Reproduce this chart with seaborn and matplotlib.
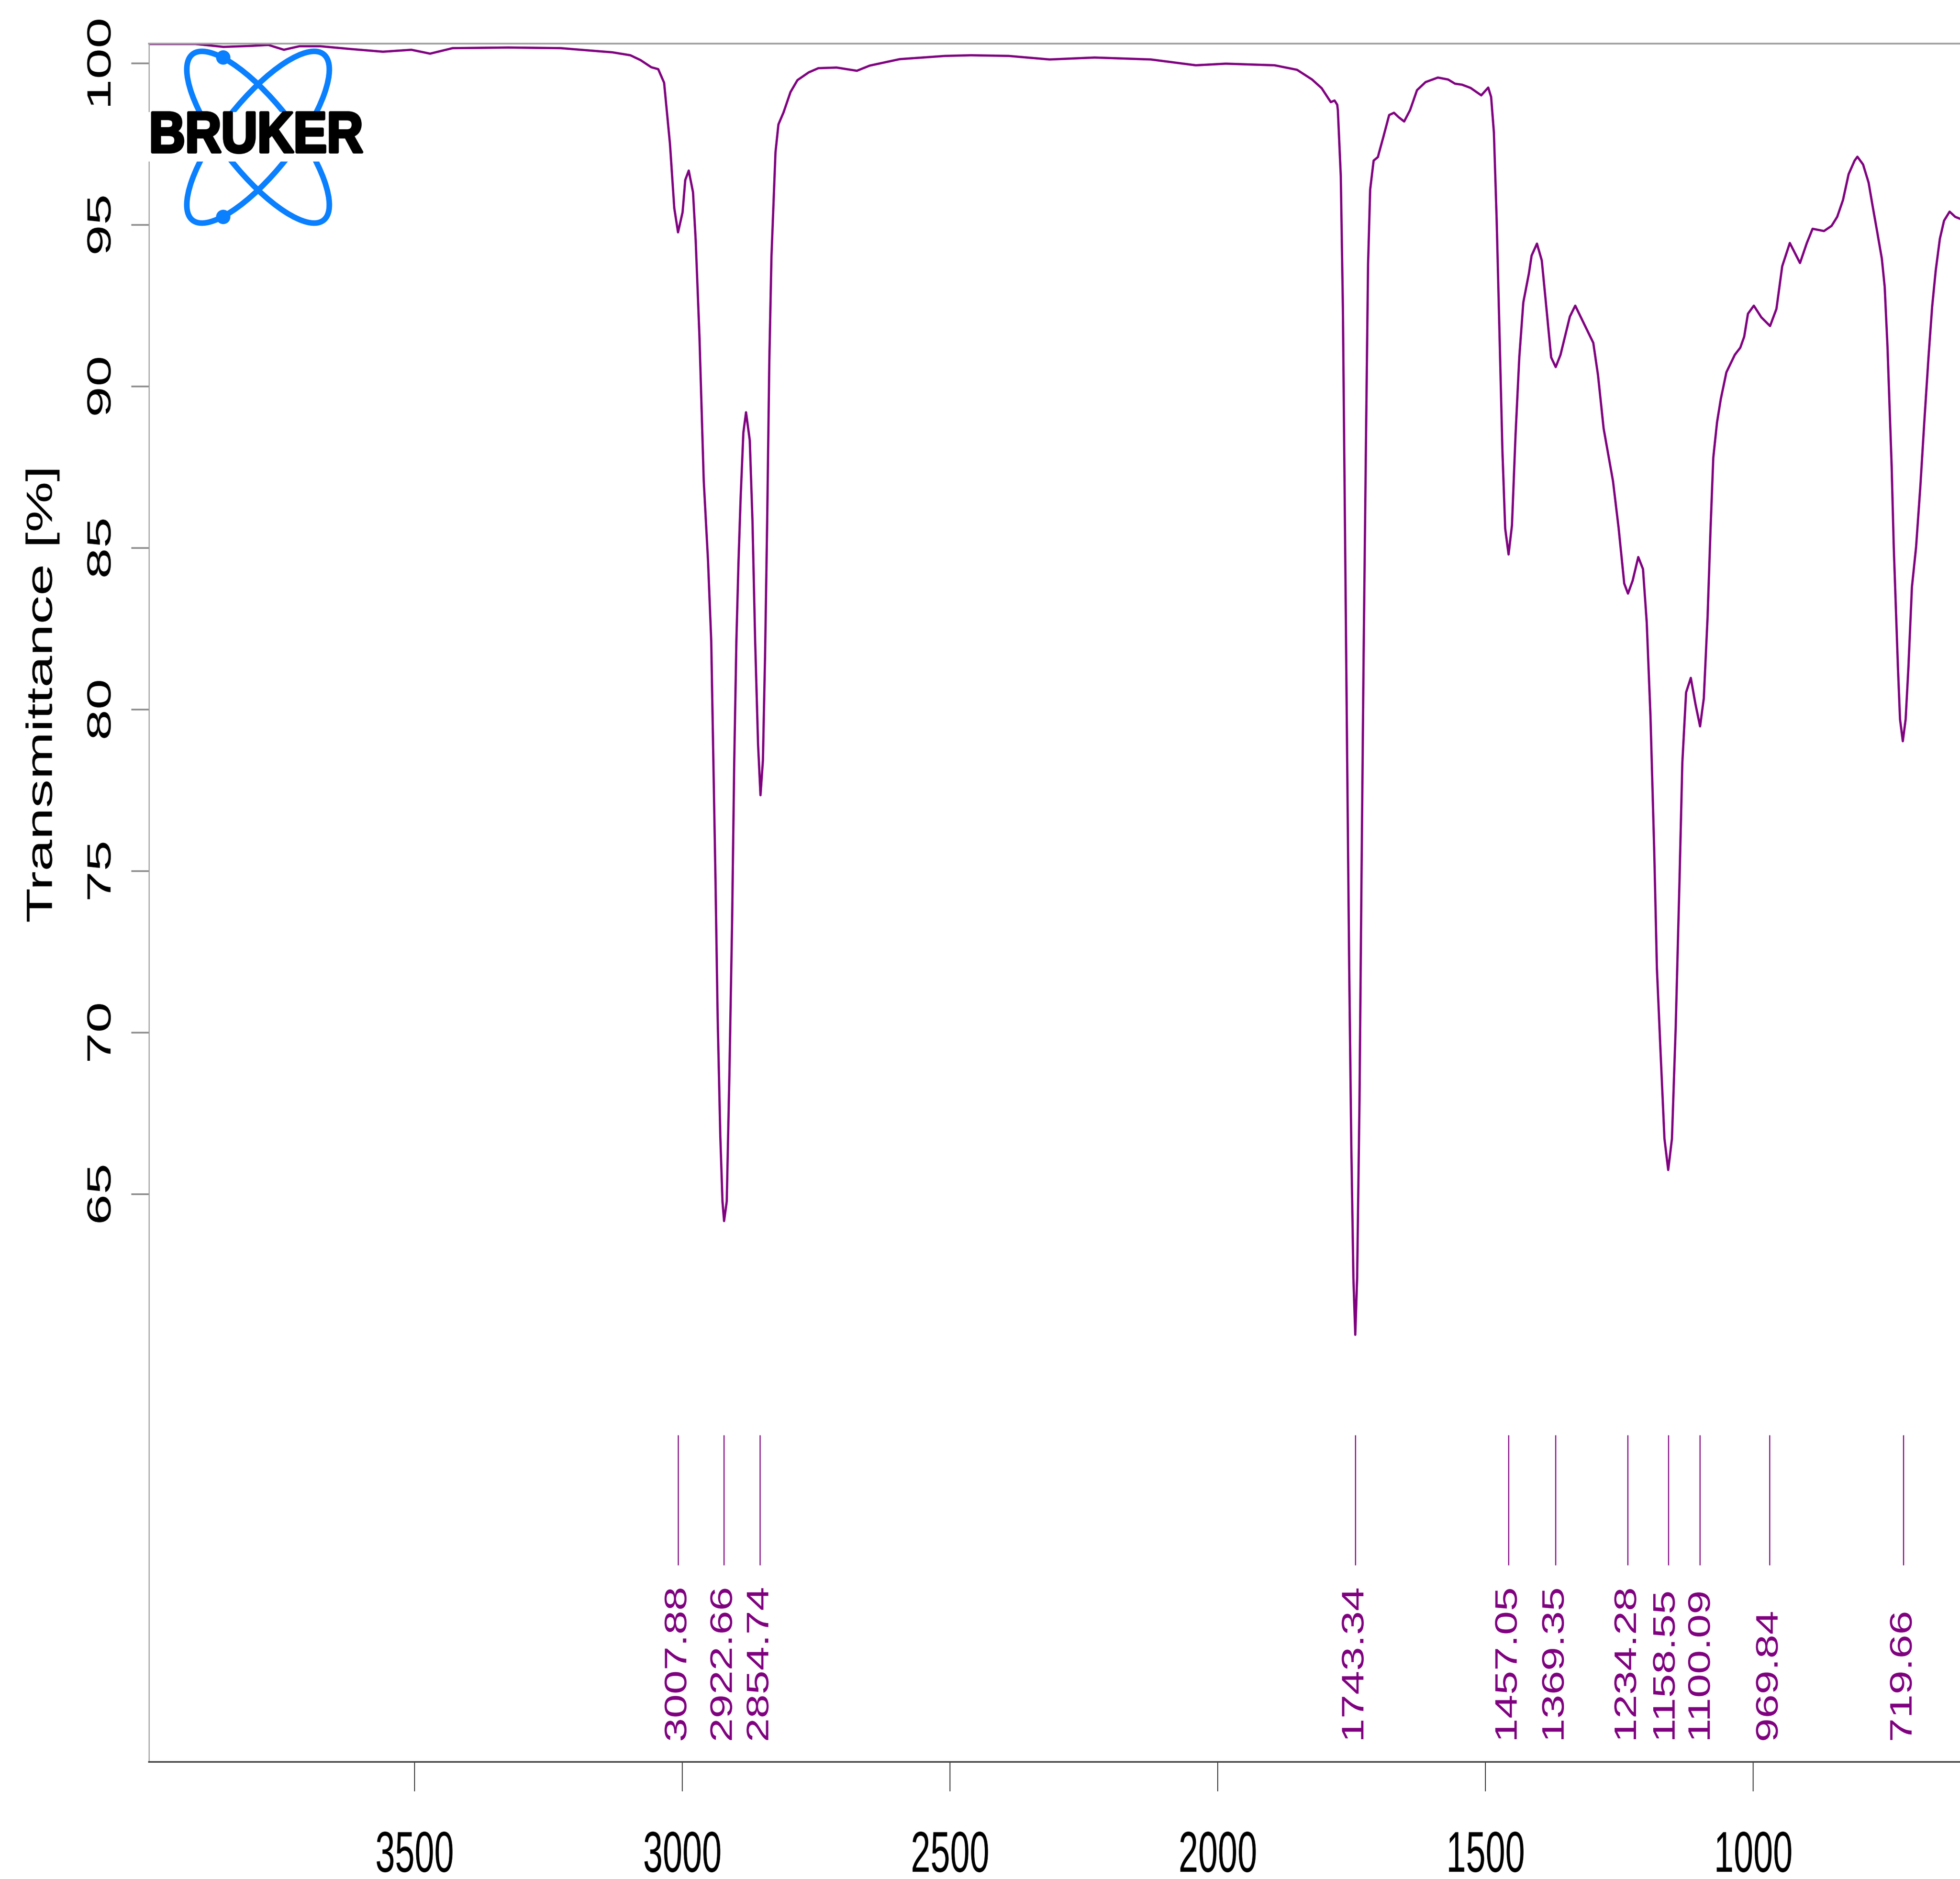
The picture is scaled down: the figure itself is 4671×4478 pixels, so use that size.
import matplotlib
matplotlib.use("Agg")
import matplotlib.pyplot as plt
import seaborn as sns
from matplotlib.patches import Ellipse, Circle
from matplotlib.patheffects import AbstractPathEffect
from matplotlib.transforms import Affine2D, ScaledTranslation

# ---------------------------------------------------------------- data
wavenumber = [
    3996, 3909, 3857, 3806, 3773, 3744, 3715, 3676, 3624, 3559, 3506, 3471,
    3429, 3325, 3227, 3130, 3097, 3078, 3058, 3045, 3034, 3023, 3015, 3008,
    2999.5, 2994.5, 2988, 2980, 2975, 2968, 2960, 2952, 2946, 2942, 2938,
    2934, 2929, 2925, 2922, 2917, 2912, 2907, 2903, 2899, 2895, 2891, 2886,
    2881, 2874, 2869, 2864, 2858.5, 2854, 2849.5, 2845.5, 2841.5, 2837.5,
    2833.5, 2829.5, 2826, 2820.5, 2811, 2798, 2785, 2764, 2746, 2712, 2674,
    2650, 2594, 2509, 2461, 2391, 2314, 2230, 2125, 2041, 1985, 1894, 1852,
    1824, 1806, 1789, 1782, 1777, 1775.8, 1770.3, 1766.4, 1762.5, 1758.6,
    1754.6, 1750.7, 1746.8, 1743.3, 1739.8, 1735.4, 1731.7, 1727.8, 1723.3,
    1719.4, 1715.5, 1709, 1701, 1699, 1690.7, 1680, 1671, 1662, 1652, 1641,
    1628, 1612, 1589, 1570, 1557, 1544, 1528, 1508, 1495, 1489.6, 1484.4,
    1479.2, 1474.5, 1468.5, 1463.3, 1457, 1450.7, 1444, 1437, 1429.5, 1419,
    1414, 1404, 1395, 1388, 1377.5, 1369, 1360, 1342.6, 1332.5, 1314.6,
    1298.8, 1290, 1279.5, 1262, 1251.5, 1241, 1234, 1225.3, 1214.8, 1206,
    1199, 1192, 1185, 1180, 1172.8, 1165.9, 1158.9, 1151.9, 1144.9, 1137.8,
    1132.5, 1125.5, 1116.7, 1108, 1099.4, 1092.4, 1085.3, 1079.8, 1074.7,
    1067.7, 1060.7, 1050.2, 1034.5, 1024.3, 1017, 1010, 999, 985, 968.7,
    956.8, 946, 931.8, 912.8, 900, 889.3, 868, 853.8, 843.3, 832.5, 822,
    810.8, 805.6, 795, 784.7, 776.9, 769, 759.9, 754.6, 749.4, 745.5, 741.6,
    737.7, 733.8, 729.9, 726, 720.8, 715.5, 710.3, 703.8, 696, 688.1, 680.3,
    672.5, 666, 659.4, 651.6, 643.8, 633.4, 623, 614,
]
transmittance = [
    100.60, 100.60, 100.51, 100.54, 100.57, 100.42, 100.53, 100.53, 100.45,
    100.36, 100.42, 100.30, 100.47, 100.49, 100.47, 100.34, 100.25, 100.10,
    99.88, 99.82, 99.40, 97.50, 95.52, 94.77, 95.39, 96.39, 96.68, 96.01,
    94.52, 91.55, 87.09, 84.61, 82.13, 78.42, 74.70, 70.48, 66.77, 64.78,
    64.17, 64.78, 68.76, 73.46, 78.42, 82.13, 84.61, 86.59, 88.57, 89.20,
    88.33, 85.85, 82.13, 78.91, 77.35, 78.42, 81.63, 85.85, 90.80, 94.03,
    95.76, 97.25, 98.11, 98.48, 99.11, 99.48, 99.72, 99.85, 99.87, 99.77,
    99.93, 100.13, 100.23, 100.25, 100.23, 100.12, 100.18, 100.12, 99.94,
    99.99, 99.94, 99.80, 99.50, 99.23, 98.80, 98.85, 98.72, 98.55, 96.50,
    92.41, 85.60, 78.78, 71.97, 66.51, 62.42, 60.65, 62.42, 67.88, 74.69,
    81.50, 88.33, 93.78, 96.09, 96.99, 97.10, 97.23, 97.73, 98.40, 98.47,
    98.33, 98.20, 98.55, 99.17, 99.42, 99.56, 99.50, 99.37, 99.34, 99.24,
    99.01, 99.25, 98.96, 97.86, 95.14, 92.00, 88.00, 85.60, 84.80, 85.70,
    88.50, 90.90, 92.60, 93.50, 94.05, 94.42, 93.90, 92.71, 90.90, 90.60,
    90.98, 92.16, 92.50, 91.89, 91.35, 90.35, 88.70, 87.07, 85.62, 83.90,
    83.59, 83.99, 84.72, 84.35, 82.70, 79.80, 75.62, 71.99, 69.26, 66.72,
    65.75, 66.72, 70.17, 74.72, 78.36, 80.53, 80.98, 80.17, 79.48, 80.35,
    82.89, 85.62, 87.80, 88.89, 89.61, 90.44, 90.98, 91.20, 91.54, 92.25,
    92.50, 92.14, 91.87, 92.40, 93.72, 94.44, 93.82, 94.44, 94.88, 94.81,
    94.97, 95.25, 95.77, 96.57, 96.99, 97.11, 96.87, 96.31, 95.56, 94.82,
    93.95, 93.08, 91.23, 89.37, 87.51, 85.03, 83.17, 81.31, 79.70, 79.02,
    79.70, 81.31, 83.79, 85.03, 86.89, 89.00, 90.98, 92.47, 93.58, 94.57,
    95.13, 95.41, 95.25, 95.19,
]

peak_positions = [3007.88, 2922.66, 2854.74, 1743.34, 1457.05, 1369.35,
                  1234.28, 1158.55, 1100.09, 969.84, 719.66]
peak_labels = ["3007.88", "2922.66", "2854.74", "1743.34", "1457.05",
               "1369.35", "1234.28", "1158.55", "1100.09", "969.84", "719.66"]

x_ticks = [3500, 3000, 2500, 2000, 1500, 1000]
y_ticks = [65, 70, 75, 80, 85, 90, 95, 100]


# ---------------------------------------------------------------- helpers
class Stretch(AbstractPathEffect):
    """Draw glyphs scaled along the page's vertical direction (tall type)."""

    def __init__(self, sy=1.0, anchor="center", stroke=0.0):
        super().__init__()
        self._sy = sy
        self._anchor = anchor
        self._stroke = stroke

    def draw_path(self, renderer, gc, tpath, affine, rgbFace=None):
        ext = tpath.get_extents(affine)
        cx = 0.5 * (ext.x0 + ext.x1)
        if self._anchor == "top":
            cy = ext.y1
        elif self._anchor == "bottom":
            cy = ext.y0
        else:
            cy = 0.5 * (ext.y0 + ext.y1)
        tr = affine + Affine2D().translate(-cx, -cy).scale(1.0, self._sy).translate(cx, cy)
        gc0 = renderer.new_gc()
        gc0.copy_properties(gc)
        if self._stroke > 0 and rgbFace is not None:
            gc0.set_linewidth(self._stroke)
            gc0.set_foreground(rgbFace)
            gc0.set_joinstyle("round")
        renderer.draw_path(gc0, tpath, tr, rgbFace)
        gc0.restore()


# ---------------------------------------------------------------- style
W, H, DPI = 4671, 4478, 300
PURPLE = "#800080"
LOGO_BLUE = "#0A80FF"

sns.set_theme(style="white")
plt.rcParams["font.family"] = ["Liberation Sans", "DejaVu Sans"]

fig = plt.figure(figsize=(W / DPI, H / DPI), dpi=DPI, facecolor="white")

# plot area in pixel units of the canvas
left_px, right_px, top_px, bottom_px = 355, W, 104, 4199
ax = fig.add_axes([left_px / W, 1 - bottom_px / H,
                   (right_px - left_px) / W, (bottom_px - top_px) / H])
ax.set_facecolor("white")

sns.lineplot(x=wavenumber, y=transmittance, ax=ax, color=PURPLE,
             linewidth=1.3, estimator=None, sort=False)

ax.set_xlim(3996, 614)
ax.set_ylim(47.43, 100.61)
ax.set_xticks(x_ticks)
ax.set_yticks(y_ticks)
ax.set_xticklabels([str(v) for v in x_ticks])
ax.set_yticklabels([str(v) for v in y_ticks])

# spines
ax.spines["right"].set_visible(False)
ax.spines["top"].set_color("#A0A0A0")
ax.spines["top"].set_linewidth(1.0)
ax.spines["left"].set_color("#A0A0A0")
ax.spines["left"].set_linewidth(0.6)
ax.spines["bottom"].set_color("#444444")
ax.spines["bottom"].set_linewidth(0.9)

# ticks
ax.tick_params(axis="x", which="major", direction="out", length=16.8,
               width=0.5, color="#333333", pad=22.5, labelsize=20.2,
               labelcolor="black", bottom=True)
ax.tick_params(axis="y", which="major", direction="out", length=10,
               width=1.0, color="#909090", pad=7.9, labelsize=19.2,
               labelcolor="black", left=True, labelrotation=90)
for tick in ax.xaxis.get_major_ticks():
    tick.label1.set_path_effects([Stretch(1.63, "top")])
for tick in ax.yaxis.get_major_ticks():
    tick.label1.set_verticalalignment("center")
    tick.label1.set_path_effects([Stretch(1.65, "center")])

ax.set_xlabel("")
ax.set_ylabel("Transmittance [%]", fontsize=20.9, color="black",
              path_effects=[Stretch(1.56, "center")])
ax.yaxis.set_label_coords(-0.0494, 0.621)

# peak markers with their wavenumber labels
label_nudge = {"1158.55": -1.1, "1100.09": 1.1}
ax.vlines(peak_positions, ymin=53.52, ymax=57.55, color=PURPLE, linewidth=0.6)
for pos, lab in zip(peak_positions, peak_labels):
    shift = ScaledTranslation(label_nudge.get(lab, 0.0) / 72, 0, fig.dpi_scale_trans)
    ax.text(pos, 48.06, lab, rotation=90, ha="center", va="bottom",
            fontsize=17.8, color=PURPLE, transform=ax.transData + shift,
            path_effects=[Stretch(1.38, "bottom")])

# ---------------------------------------------------------------- logo
lx0, lx1, ly0, ly1 = 330, 900, 90, 570
logo = fig.add_axes([lx0 / W, 1 - ly1 / H, (lx1 - lx0) / W, (ly1 - ly0) / H])
logo.set_xlim(lx0, lx1)
logo.set_ylim(ly1, ly0)
logo.set_axis_off()

cx, cy = 615, 327
for ang in (51.7, -51.7):
    logo.add_patch(Ellipse((cx, cy), width=504, height=170, angle=ang,
                           fill=False, edgecolor=LOGO_BLUE, linewidth=3.2))
for ey in (137, 517):
    logo.add_patch(Circle((532, ey), radius=15, color=LOGO_BLUE))

logo.text(610, 326, "BRUKER", ha="center", va="center", fontsize=28.6,
          fontweight="bold", color="black",
          family=["Liberation Sans", "DejaVu Sans"],
          bbox=dict(facecolor="white", edgecolor="none", pad=1.0),
          path_effects=[Stretch(1.15, "center", stroke=1.6)])

fig.savefig("out.png", dpi=DPI, facecolor="white")
